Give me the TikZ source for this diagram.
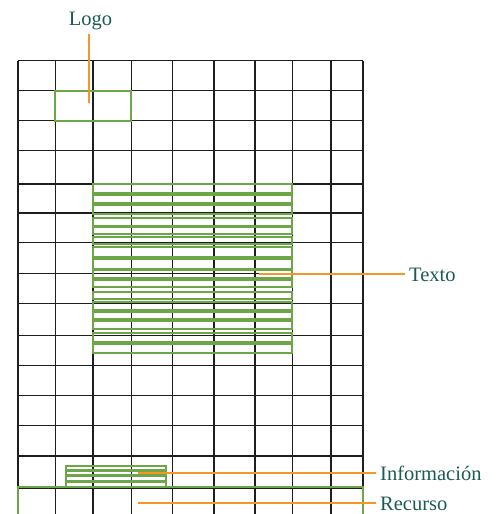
\documentclass[tikz,border=0pt]{standalone}
\usepackage{fontspec}
\setmainfont{Liberation Serif}
\definecolor{gridc}{RGB}{30,30,30}
\definecolor{greenc}{RGB}{108,166,72}
\definecolor{orangec}{RGB}{247,150,40}
\definecolor{tealc}{RGB}{28,90,86}
\begin{document}
\begin{tikzpicture}[x=1pt,y=-1pt,
  gridline/.style={draw=gridc,line width=1.1pt},
  blockbox/.style={draw=greenc,line width=2pt},
  linebox/.style={draw=greenc,line width=1.7pt},
  leader/.style={draw=orangec,line width=2.2pt},
  lbl/.style={text=tealc,font=\fontsize{20.5}{24}\selectfont,inner sep=0pt}]
\useasboundingbox (0,0) rectangle (503,514);
% grid
\foreach \x in {18,55.3,93,131.3,172.3,214,255,292.3,331,363}
  \draw[gridline] (\x,60.7) -- (\x,514);
\foreach \y in {60.7,90.5,120.5,150.7,184,213,242.7,273.3,303.3,335.7,365.3,395.7,425.7,456,488.3}
  \draw[gridline] (18,\y) -- (363,\y);
% logo box
\draw[blockbox] (55.3,90.5) rectangle (131.3,120.5);
% text block lines
\foreach \t/\b in {184/192.7,195/202.7,205/213.7,218.3/225.7,227.3/234.3,236.7/244,247.3/257.3,259.3/268.7,270/277.7,279.7/287,291.7/299.3,301.7/310,311.7/319.3,321/329.3,333.3/341.7,343.7/352.7}
  \draw[linebox] (93.3,\t) rectangle (292,\b);
% information block
\foreach \t/\b in {466/470,471/475,476.5/480.5,482/486.7}
  \draw[linebox] (66,\t) rectangle (166,\b);
% resource box
\draw[blockbox] (18,514) -- (18,486.7) -- (363,486.7) -- (363,514);
% labels
\node[lbl,anchor=base] (logo) at (90.5,25) {Logo};
\node[lbl,anchor=base west] (texto) at (409,281) {Texto};
\node[lbl,anchor=base west] (info) at (380,480) {Información};
\node[lbl,anchor=base west] (recurso) at (380,510.3) {Recurso};
% leader ends
\coordinate (plogo) at (89,102.7);
\coordinate (ptexto) at (259,273.7);
\coordinate (pinfo) at (138,473);
\coordinate (precurso) at (138,503.3);
\draw[leader] (89,34) -- (plogo);
\draw[leader] (texto.west |- ptexto) ++(-4,0) -- (ptexto);
\draw[leader] (info.west |- pinfo) ++(-4,0) -- (pinfo);
\draw[leader] (recurso.west |- precurso) ++(-4,0) -- (precurso);
\end{tikzpicture}
\end{document}
